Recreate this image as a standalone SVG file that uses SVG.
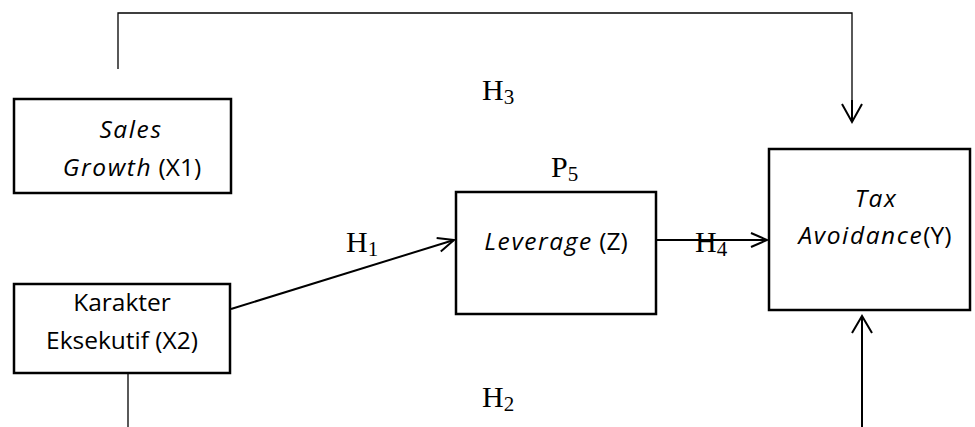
<svg xmlns="http://www.w3.org/2000/svg" width="975" height="427" viewBox="0 0 975 427">
<style>
.box{fill:#fff;stroke:#000;stroke-width:2.5}
.ln{fill:none;stroke:#000;stroke-width:1.3}
.ar{fill:none;stroke:#000;stroke-width:2}
.t{font-family:"Open Sans","Noto Sans",sans-serif;font-size:24.5px;fill:#000;text-anchor:middle}
.i{font-style:italic;letter-spacing:1.6px}
.h{font-family:"Liberation Serif",serif;font-size:30px;fill:#000}
.s{font-size:21px}
</style>
<defs>
<marker id="v" markerWidth="20" markerHeight="20" refX="17" refY="8" orient="auto" markerUnits="userSpaceOnUse">
<path d="M1,1 L17,8 L1,15" fill="none" stroke="#000" stroke-width="2"/>
</marker>
</defs>
<g id="connectors">
<path class="ln" d="M118,69 V13 H852 V110"/>
<path class="ar" d="M852,100 V122"/>
<path d="M842,104 L852,122 L862,104" class="ar"/>
<line class="ar" x1="231" y1="309" x2="454" y2="240" marker-end="url(#v)"/>
<line class="ar" x1="657" y1="240" x2="767" y2="240" marker-end="url(#v)"/>
<path class="ln" d="M128,374 V427"/>
<line class="ar" x1="862" y1="427" x2="862" y2="316"/>
<path d="M852,333 L862,316 L872,333" class="ar"/>
</g>
<g id="sales-growth">
<rect class="box" x="14" y="99" width="217" height="94"/>
<text class="t" x="131" y="138"><tspan class="i">Sales</tspan></text>
<text class="t" x="132" y="176"><tspan class="i">Growth</tspan> (X1)</text>
</g>
<g id="karakter-eksekutif">
<rect class="box" x="14" y="284" width="216" height="89"/>
<text class="t" x="122" y="311">Karakter</text>
<text class="t" x="122" y="349">Eksekutif (X2)</text>
</g>
<g id="leverage">
<rect class="box" x="456" y="192" width="200" height="122"/>
<text class="t" x="556" y="250"><tspan class="i">Leverage</tspan> (Z)</text>
</g>
<g id="tax-avoidance">
<rect class="box" x="769" y="149" width="201" height="161"/>
<text class="t" x="876" y="207"><tspan class="i">Tax</tspan></text>
<text class="t" x="875" y="244"><tspan class="i">Avoidance</tspan>(Y)</text>
</g>
<g id="labels">
<text class="h" x="482" y="100">H<tspan class="s" dy="4">3</tspan></text>
<text class="h" x="551" y="177">P<tspan class="s" dy="4">5</tspan></text>
<text class="h" x="346" y="252">H<tspan class="s" dy="4">1</tspan></text>
<text class="h" x="695" y="252">H<tspan class="s" dy="4">4</tspan></text>
<text class="h" x="482" y="407">H<tspan class="s" dy="4">2</tspan></text>
</g>
</svg>
